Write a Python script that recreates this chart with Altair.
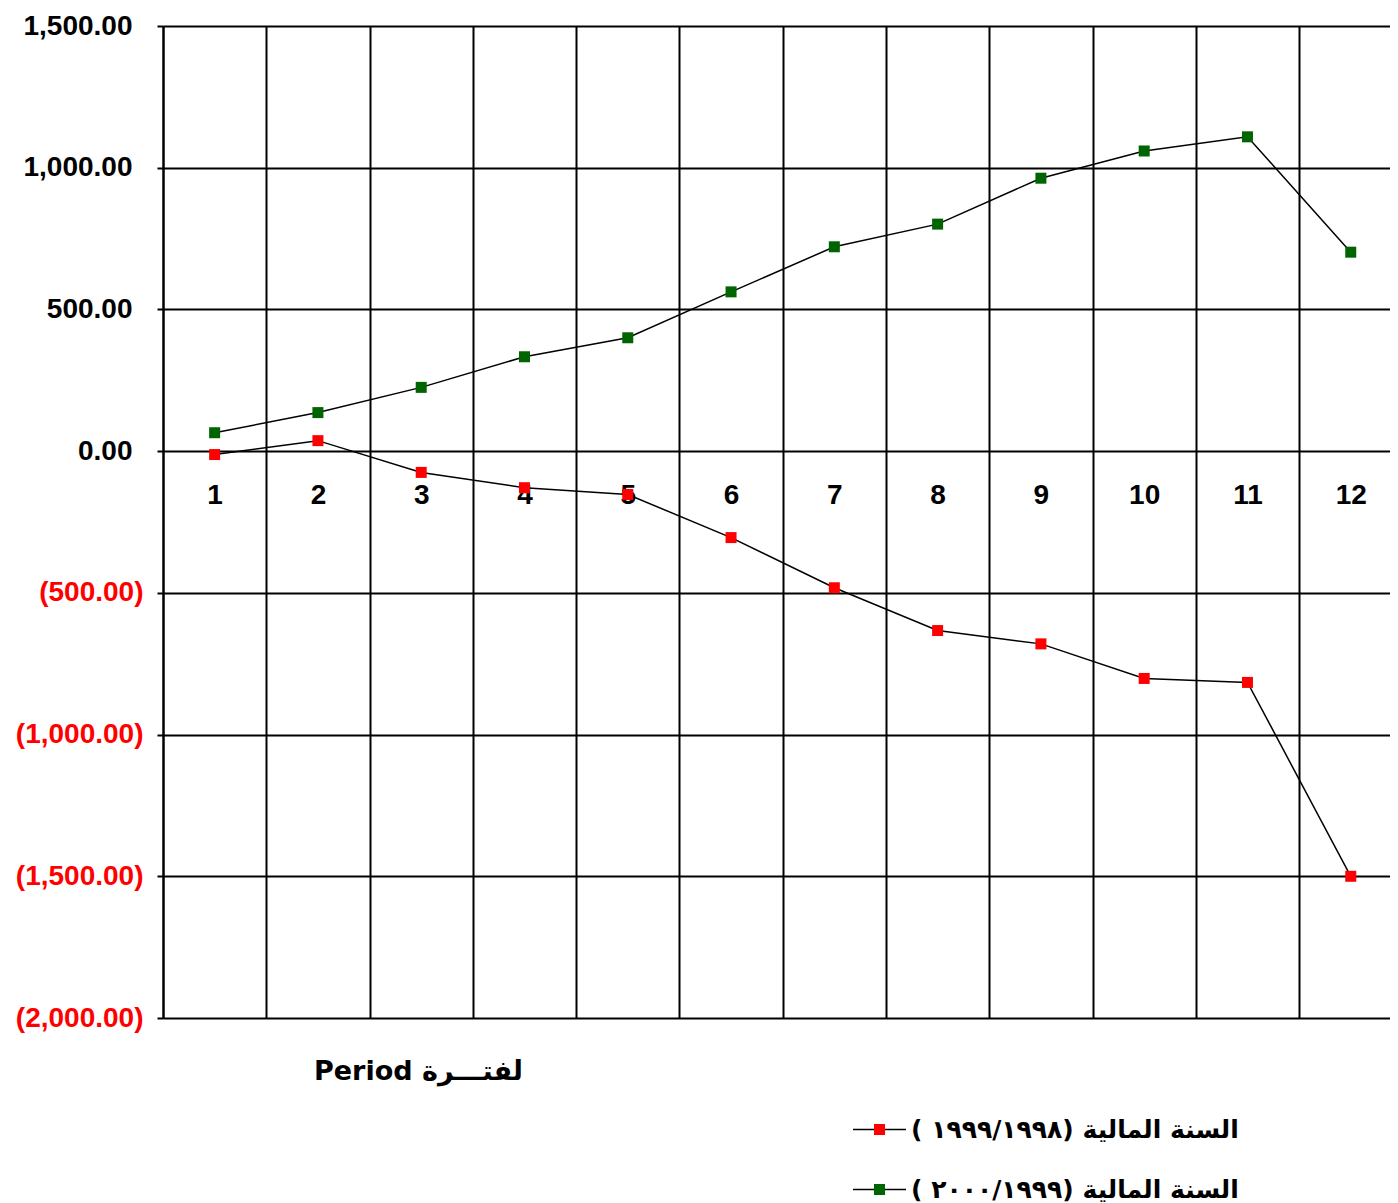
import altair as alt
import pandas as pd

# ---- data ----
periods = list(range(1, 13))
fy_1998_1999 = [-12, 37, -75, -129, -153, -305, -482, -633, -680, -802, -816, -1500]
fy_1999_2000 = [65, 136, 225, 333, 400, 562, 721, 801, 963, 1059, 1109, 702]
series_names = ["السنة المالية (١٩٩٩/١٩٩٨ )", "السنة المالية (٢٠٠٠/١٩٩٩ )"]
series_colors = ["#FF0000", "#006400"]
y_ticks_pos = [0, 500, 1000, 1500]
y_ticks_neg = [-500, -1000, -1500, -2000]
x_title = "Period لفتـــرة"

rows = []
for name, vals in zip(series_names, [fy_1998_1999, fy_1999_2000]):
    for p, v in zip(periods, vals):
        rows.append({"period": p, "value": v, "series": name, "marker": name})
df = pd.DataFrame(rows)

grid_positions = [p - 0.5 for p in periods]

W, H = 1227, 992
y_domain = [-2000, 1500]
zero_px = H * (y_domain[1] - 0) / (y_domain[1] - y_domain[0])

x_scale = alt.Scale(domain=[0.5, 12.38], nice=False, zero=False)
y_scale = alt.Scale(domain=y_domain, nice=False, zero=False)

common_y = dict(
    title=None, orient="left",
    grid=True, gridColor="black", gridWidth=2, gridOpacity=1,
    ticks=True, tickColor="black", tickWidth=2, tickSize=6,
    labelFont="Liberation Sans", labelFontSize=28, labelFontWeight="bold",
    labelOverlap=False, labelFlush=False,
)

y_pos = alt.Y(
    "value:Q", scale=y_scale,
    axis=alt.Axis(
        values=y_ticks_pos, format=",.2f", labelColor="black", labelPadding=25,
        domain=True, domainColor="black", domainWidth=2, **common_y,
    ),
)
y_neg = alt.Y(
    "value:Q", scale=y_scale,
    axis=alt.Axis(
        values=y_ticks_neg, labelColor="#FF0000", labelPadding=14,
        labelExpr="'(' + format(-datum.value, ',.2f') + ')'",
        domain=False, **common_y,
    ),
)

legend_x = 689
legend_y = 1076

lines = alt.Chart(df).mark_line(strokeWidth=1.5, color="black").encode(
    x=alt.X(
        "period:Q", scale=x_scale,
        axis=alt.Axis(
            values=grid_positions, orient="bottom",
            grid=True, gridColor="black", gridWidth=2, gridOpacity=1,
            labels=False, ticks=False, domain=False,
            title=x_title, titleFont="DejaVu Sans", titleFontSize=27, titleFontWeight="bold",
            titleColor="black", titleX=255, titleY=53, titleAlign="center", titleBaseline="middle",
        ),
    ),
    y=y_pos,
    stroke=alt.Stroke(
        "series:N", sort=series_names,
        scale=alt.Scale(range=["black", "black"]),
        legend=alt.Legend(
            orient="none", legendX=legend_x, legendY=legend_y, title=None, direction="vertical",
            symbolType="stroke", symbolSize=2809, symbolStrokeWidth=1.5,
            labelFont="DejaVu Sans", labelFontSize=25, labelFontWeight="bold", labelColor="black",
            labelOffset=4, labelLimit=0, rowPadding=19, padding=0, zindex=1,
        ),
    ),
)

points = alt.Chart(df).mark_point(shape="square", filled=True, size=121, opacity=1, strokeWidth=0).encode(
    x=alt.X(
        "period:Q", scale=x_scale,
        axis=alt.Axis(
            values=periods, orient="bottom", offset=-(H - zero_px), format="d",
            grid=False, domain=False, ticks=False, title=None,
            labelFont="Liberation Sans", labelFontSize=28, labelFontWeight="bold", labelColor="black",
            labelPadding=30, labelFlush=False, labelOverlap=False,
        ),
    ),
    y=y_neg,
    fill=alt.Fill(
        "marker:N", sort=series_names,
        scale=alt.Scale(range=series_colors),
        legend=alt.Legend(
            orient="none", legendX=legend_x, legendY=legend_y, title=None, direction="vertical",
            symbolType="square", symbolSize=121, symbolStrokeWidth=0,
            labelExpr="''", labelFontSize=55, rowPadding=4, padding=0, zindex=2,
        ),
    ),
)

chart = (
    alt.layer(lines, points)
    .resolve_axis(x="independent", y="independent")
    .properties(
        width=W, height=H,
        autosize=alt.AutoSizeParams(type="none"),
        padding={"left": 155, "top": 18, "right": 0, "bottom": 185},
        background="white",
    )
    .configure_view(stroke=None)
)

chart.save("out.html", embed_options={"renderer": "svg", "actions": False})
